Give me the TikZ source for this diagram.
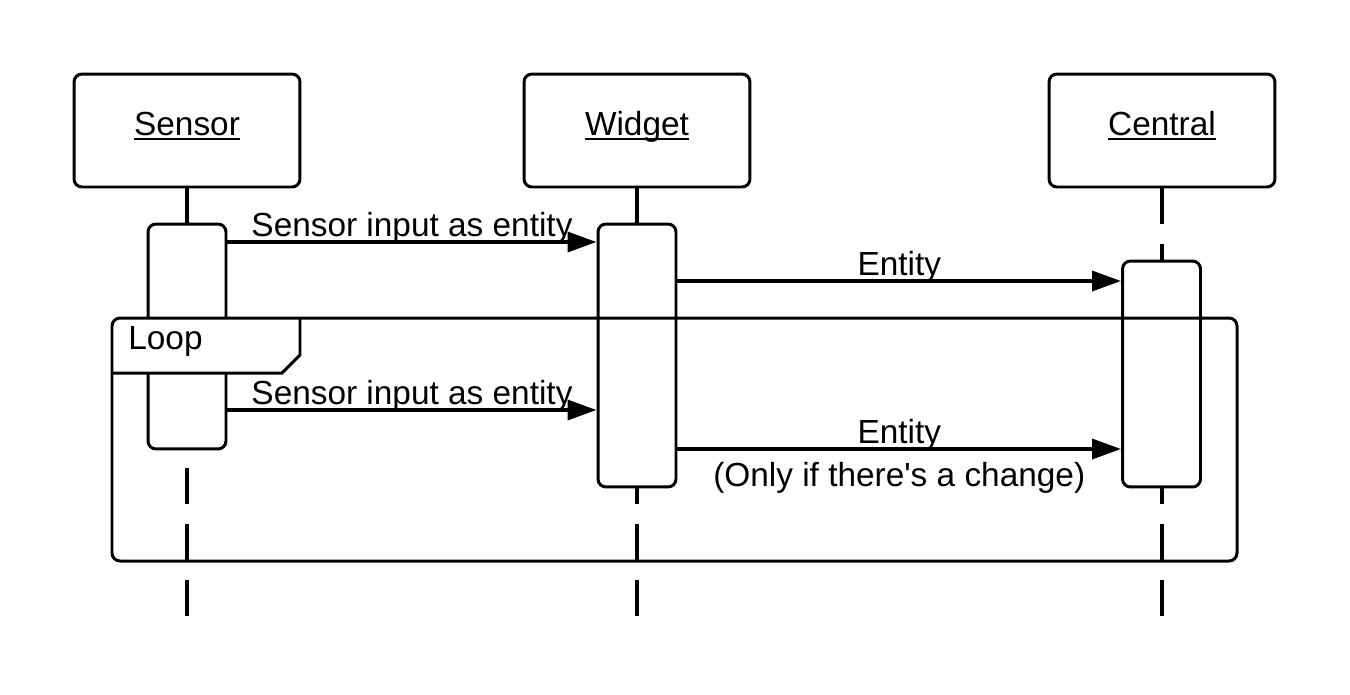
\documentclass[tikz,border=0pt]{standalone}
\usepackage{fontspec}
\setmainfont{Liberation Sans}
\usetikzlibrary{arrows.meta,calc}

\newcommand{\ulname}[1]{\setbox0\hbox{#1}\rlap{\rule[-2.6pt]{\wd0}{1.1pt}}\box0}

\begin{document}
\begin{tikzpicture}[x=0.02cm, y=-0.02cm,
    every node/.style={font=\fontsize{19}{23}\selectfont},
    actor/.style={draw, line width=1.7pt, rounded corners=0.16cm, minimum width=4.52cm, minimum height=2.26cm, text height=0.75em, text depth=0.2em},
    lifeline/.style={line width=1.8pt, dash pattern=on 0.72cm off 0.4cm},
    activation/.style={draw, fill=white, line width=1.7pt, rounded corners=0.16cm, minimum width=1.56cm, inner sep=0pt},
    msg/.style={line width=2pt, -{Triangle[length=0.58cm, width=0.4cm]}},
    msglabel/.style={inner sep=0pt, text depth=0.21em}
]
    \useasboundingbox (0,0) rectangle (1350,694);

    % participants
    \node[actor] (sensor) at (187,130.5) {\ulname{Sensor}};
    \node[actor] (widget) at (637,130.5) {\ulname{Widget}};
    \node[actor] (central) at (1162,130.5) {\ulname{Central}};

    \coordinate (sensorend) at (187,617);
    \coordinate (widgetend) at (637,617);
    \coordinate (centralend) at (1162,617);
    \draw[lifeline] (sensor.south) -- (sensorend);
    \draw[lifeline] (widget.south) -- (widgetend);
    \draw[lifeline] (central.south) -- (centralend);

    % activations
    \node[activation, minimum height=4.5cm] (sensoract) at (187,336.5) {};
    \node[activation, minimum height=5.26cm] (widgetact) at (637,355.5) {};
    \node[activation, minimum height=4.52cm] (centralact) at (1161.5,374) {};

    % messages
    \draw[msg] (sensoract.east |- 0,242) -- (widgetact.west |- 0,242) node[midway, above, msglabel] (input1) {Sensor input as entity};
    \draw[msg] (widgetact.east |- 0,281) -- (centralact.west |- 0,281) node[midway, above, msglabel] (entity1) {Entity};
    \draw[msg] (sensoract.east |- 0,410) -- (widgetact.west |- 0,410) node[midway, above, msglabel] (input2) {Sensor input as entity};
    \draw[msg] (widgetact.east |- 0,449) -- (centralact.west |- 0,449) node[midway, above, msglabel] (entity2) {Entity}
        node[midway, below, inner sep=0pt, yshift=-6.5pt] (change) {(Only if there\textquotesingle s a change)};

    % loop frame
    \fill[white] (112,318) rectangle (300,373);
    \draw[line width=1.7pt, rounded corners=0.16cm] (112,318) rectangle (1237,561);
    \draw[line width=1.7pt] (112,373) -- (282,373) -- (300,355) -- (300,318);
    \node[anchor=west, inner sep=0pt] (looplabel) at (128,341) {Loop};

\end{tikzpicture}
\end{document}
